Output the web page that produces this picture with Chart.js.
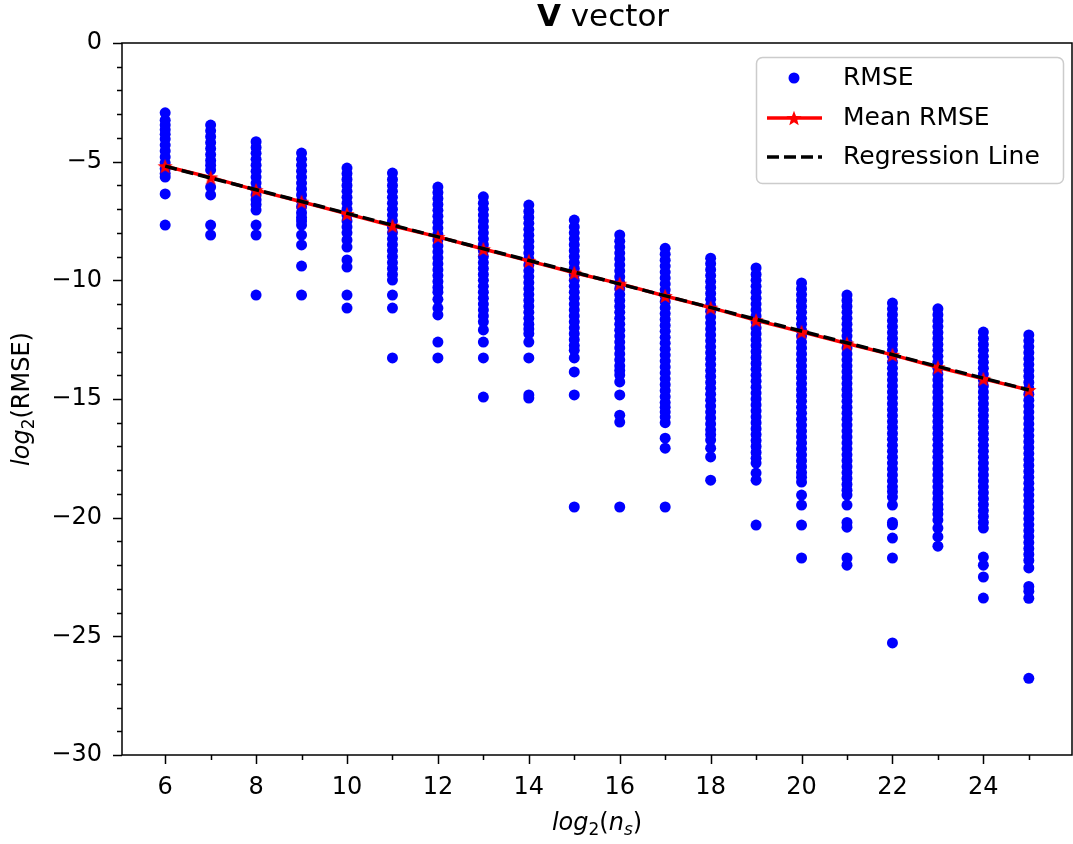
<!DOCTYPE html>
<html>
<head>
<meta charset="utf-8">
<title>V vector RMSE</title>
<script src="https://cdn.jsdelivr.net/npm/chart.js@4"></script>
<style>
  html, body { margin: 0; padding: 0; background: #fff; }
  canvas { display: block; }
</style>
</head>
<body>
<canvas id="rmseChart" width="1073" height="844"></canvas>
<script>
// log2(n_s) values (one column of points per value)
const nsValues = [6, 7, 8, 9, 10, 11, 12, 13, 14, 15, 16, 17, 18, 19, 20, 21, 22, 23, 24, 25];

// log2(RMSE) per column
const rmse_6 = [-2.94, -3.25, -3.45, -3.65, -3.85, -4.05, -4.3, -4.55, -4.8, -5.05, -5.3, -5.5, -5.65, -6.36, -7.67];
const rmse_7 = [-3.46, -3.7, -3.95, -4.2, -4.45, -4.7, -4.95, -5.15, -5.35, -6.07, -6.4, -7.67, -8.09];
const rmse_8 = [-4.16, -4.4, -4.65, -4.9, -5.15, -5.4, -5.65, -5.9, -6.15, -6.4, -6.6, -6.8, -7.04, -7.67, -8.09, -10.62];
const rmse_9 = [-4.64, -4.9, -5.15, -5.4, -5.65, -5.9, -6.15, -6.4, -6.65, -6.9, -7.15, -7.35, -7.5, -7.67, -8.09, -8.51, -9.4, -10.62];
const rmse_10 = [-5.27, -5.5, -5.75, -6.0, -6.25, -6.5, -6.75, -7.0, -7.25, -7.5, -7.75, -8.0, -8.3, -8.6, -9.14, -9.44, -10.62, -11.17];
const rmse_11 = [-5.48, -5.75, -6.0, -6.25, -6.5, -6.75, -7.0, -7.25, -7.5, -7.75, -8.0, -8.25, -8.5, -8.75, -9.0, -9.25, -9.5, -9.75, -9.99, -10.62, -11.17, -13.27];
const rmse_12 = [-6.07, -6.3, -6.55, -6.8, -7.05, -7.3, -7.55, -7.8, -8.05, -8.3, -8.55, -8.8, -9.05, -9.3, -9.55, -9.8, -10.05, -10.3, -10.5, -10.8, -11.17, -11.46, -12.6, -13.27];
const rmse_13 = [-6.48, -6.75, -7.0, -7.25, -7.5, -7.75, -8.0, -8.25, -8.5, -8.75, -9.0, -9.25, -9.5, -9.75, -10.0, -10.25, -10.5, -10.75, -11.0, -11.25, -11.5, -11.75, -12.09, -12.6, -13.27, -14.92];
const rmse_14 = [-6.83, -7.1, -7.35, -7.6, -7.85, -8.1, -8.35, -8.6, -8.85, -9.1, -9.35, -9.6, -9.85, -10.1, -10.35, -10.6, -10.85, -11.1, -11.35, -11.6, -11.85, -12.05, -12.25, -12.6, -13.27, -14.83, -14.96];
const rmse_15 = [-7.46, -7.75, -8.0, -8.25, -8.5, -8.75, -9.0, -9.25, -9.5, -9.75, -10.0, -10.25, -10.5, -10.75, -11.0, -11.25, -11.5, -11.75, -12.0, -12.25, -12.5, -12.75, -12.95, -13.27, -13.86, -14.83, -19.55];
const rmse_16 = [-8.09, -8.35, -8.6, -8.85, -9.1, -9.35, -9.6, -9.85, -10.1, -10.35, -10.6, -10.85, -11.1, -11.35, -11.6, -11.85, -12.1, -12.35, -12.6, -12.85, -13.1, -13.35, -13.6, -13.8, -13.99, -14.28, -14.83, -15.68, -15.97, -19.55];
const rmse_17 = [-8.65, -8.9, -9.15, -9.4, -9.65, -9.9, -10.15, -10.4, -10.65, -10.9, -11.15, -11.4, -11.65, -11.9, -12.15, -12.4, -12.65, -12.9, -13.15, -13.4, -13.65, -13.9, -14.15, -14.4, -14.65, -14.9, -15.15, -15.35, -15.55, -15.76, -16.0, -16.65, -17.07, -19.55];
const rmse_18 = [-9.07, -9.3, -9.55, -9.8, -10.05, -10.3, -10.55, -10.8, -11.05, -11.3, -11.55, -11.8, -12.05, -12.3, -12.55, -12.8, -13.05, -13.3, -13.55, -13.8, -14.05, -14.3, -14.55, -14.8, -15.05, -15.3, -15.55, -15.8, -16.05, -16.3, -16.5, -16.73, -17.07, -17.44, -18.42];
const rmse_19 = [-9.48, -9.75, -10.0, -10.25, -10.5, -10.75, -11.0, -11.25, -11.5, -11.75, -12.0, -12.25, -12.5, -12.75, -13.0, -13.25, -13.5, -13.75, -14.0, -14.25, -14.5, -14.75, -15.0, -15.25, -15.5, -15.75, -16.0, -16.25, -16.5, -16.75, -17.0, -17.25, -17.5, -17.7, -18.12, -18.42, -20.31];
const rmse_20 = [-10.11, -10.35, -10.6, -10.85, -11.1, -11.35, -11.6, -11.85, -12.1, -12.35, -12.6, -12.85, -13.1, -13.35, -13.6, -13.85, -14.1, -14.35, -14.6, -14.85, -15.1, -15.35, -15.6, -15.85, -16.1, -16.35, -16.6, -16.85, -17.1, -17.35, -17.6, -17.85, -18.1, -18.3, -18.5, -19.05, -19.47, -20.31, -21.7];
const rmse_21 = [-10.62, -10.85, -11.1, -11.35, -11.6, -11.85, -12.1, -12.35, -12.6, -12.85, -13.1, -13.35, -13.6, -13.85, -14.1, -14.35, -14.6, -14.85, -15.1, -15.35, -15.6, -15.85, -16.1, -16.35, -16.6, -16.85, -17.1, -17.35, -17.6, -17.85, -18.1, -18.35, -18.6, -18.84, -19.05, -19.47, -20.2, -20.4, -21.7, -22.0];
const rmse_22 = [-10.96, -11.2, -11.45, -11.7, -11.95, -12.2, -12.45, -12.7, -12.95, -13.2, -13.45, -13.7, -13.95, -14.2, -14.45, -14.7, -14.95, -15.2, -15.45, -15.7, -15.95, -16.2, -16.45, -16.7, -16.95, -17.2, -17.45, -17.7, -17.95, -18.2, -18.45, -18.7, -18.9, -19.13, -19.47, -20.2, -20.3, -20.86, -21.7, -25.28];
const rmse_23 = [-11.2, -11.45, -11.7, -11.95, -12.2, -12.45, -12.7, -12.95, -13.2, -13.45, -13.7, -13.95, -14.2, -14.45, -14.7, -14.95, -15.2, -15.45, -15.7, -15.95, -16.2, -16.45, -16.7, -16.95, -17.2, -17.45, -17.7, -17.95, -18.2, -18.45, -18.7, -18.95, -19.2, -19.45, -19.65, -19.85, -20.1, -20.44, -20.8, -21.2];
const rmse_24 = [-12.18, -12.45, -12.7, -12.95, -13.2, -13.45, -13.7, -13.95, -14.2, -14.45, -14.7, -14.95, -15.2, -15.45, -15.7, -15.95, -16.2, -16.45, -16.7, -16.95, -17.2, -17.45, -17.7, -17.95, -18.2, -18.45, -18.7, -18.95, -19.2, -19.45, -19.7, -19.95, -20.2, -20.44, -21.66, -22.0, -22.5, -23.39];
const rmse_25 = [-12.3, -12.55, -12.8, -13.05, -13.3, -13.55, -13.8, -14.05, -14.3, -14.55, -14.8, -15.05, -15.3, -15.55, -15.8, -16.05, -16.3, -16.55, -16.8, -17.05, -17.3, -17.55, -17.8, -18.05, -18.3, -18.55, -18.8, -19.05, -19.3, -19.55, -19.8, -20.05, -20.3, -20.55, -20.8, -21.05, -21.3, -21.55, -21.8, -22.12, -22.9, -23.1, -23.4, -26.77];

const rmseColumns = [rmse_6, rmse_7, rmse_8, rmse_9, rmse_10, rmse_11, rmse_12, rmse_13, rmse_14, rmse_15,
  rmse_16, rmse_17, rmse_18, rmse_19, rmse_20, rmse_21, rmse_22, rmse_23, rmse_24, rmse_25];

// Mean RMSE per column
const meanRmse = [-5.19, -5.66, -6.2, -6.69, -7.2, -7.7, -8.17, -8.68, -9.18, -9.68,
  -10.14, -10.66, -11.15, -11.68, -12.17, -12.66, -13.14, -13.66, -14.15, -14.62];

// Regression line end points
const regressionX = [6, 25];
const regressionY = [-5.19, -14.62];

// Axis ticks (majors get labels)
const xTickValues = [6, 7, 8, 9, 10, 11, 12, 13, 14, 15, 16, 17, 18, 19, 20, 21, 22, 23, 24, 25];
const xMajorTicks = [6, 8, 10, 12, 14, 16, 18, 20, 22, 24];
const yTickValues = [-30, -29, -28, -27, -26, -25, -24, -23, -22, -21, -20, -19, -18, -17, -16, -15,
  -14, -13, -12, -11, -10, -9, -8, -7, -6, -5, -4, -3, -2, -1, 0];
const yMajorTicks = [-30, -25, -20, -15, -10, -5, 0];

const FONT = 'DejaVu Sans';
Chart.defaults.font.family = FONT;
Chart.defaults.color = '#000';

// Filled star marker like matplotlib '*'
function makeStar(color, outer) {
  const size = Math.ceil(outer * 2 + 4);
  const c = document.createElement('canvas');
  c.width = size; c.height = size;
  const g = c.getContext('2d');
  const inner = outer * 0.42;
  g.beginPath();
  for (let i = 0; i < 10; i++) {
    const r = i % 2 === 0 ? outer : inner;
    const a = -Math.PI / 2 + i * Math.PI / 5;
    const px = size / 2 + r * Math.cos(a);
    const py = size / 2 + r * Math.sin(a) + outer * 0.1;
    if (i === 0) g.moveTo(px, py); else g.lineTo(px, py);
  }
  g.closePath();
  g.fillStyle = color;
  g.fill();
  return c;
}
const starMarker = makeStar('#ff0000', 8);

// Build datasets
const scatterPoints = [];
nsValues.forEach((ns, i) => {
  rmseColumns[i].forEach(v => scatterPoints.push({ x: ns, y: v }));
});
const meanPoints = nsValues.map((ns, i) => ({ x: ns, y: meanRmse[i] }));
const regressionPoints = regressionX.map((x, i) => ({ x: x, y: regressionY[i] }));

// Draw text pieces (mathtext-like) from left to right
function drawPieces(ctx, pieces, startX, baseY) {
  let x = startX;
  pieces.forEach(p => {
    ctx.font = p.font;
    ctx.fillText(p.text, x, baseY + (p.dy || 0));
    x += ctx.measureText(p.text).width;
  });
}
function piecesWidth(ctx, pieces) {
  let w = 0;
  pieces.forEach(p => { ctx.font = p.font; w += ctx.measureText(p.text).width; });
  return w;
}

function minusLabel(v) {
  return v < 0 ? '\u2212' + Math.abs(v) : String(v);
}

const axesPlugin = {
  id: 'axesDecor',
  afterDatasetsDraw(chart) {
    const ctx = chart.ctx;
    const a = chart.chartArea;
    const xs = chart.scales.x, ys = chart.scales.y;
    const rm = '24px "' + FONT + '"';
    ctx.save();
    ctx.strokeStyle = '#000';
    ctx.fillStyle = '#000';
    ctx.lineWidth = 1.5;

    // ticks
    ctx.beginPath();
    xTickValues.forEach(v => {
      const px = Math.round(xs.getPixelForValue(v)) + 0.5;
      const len = xMajorTicks.includes(v) ? 9 : 5;
      ctx.moveTo(px, a.bottom); ctx.lineTo(px, a.bottom + len);
    });
    yTickValues.forEach(v => {
      const py = Math.round(ys.getPixelForValue(v)) + 0.5;
      const len = yMajorTicks.includes(v) ? 9 : 5;
      ctx.moveTo(a.left, py); ctx.lineTo(a.left - len, py);
    });
    ctx.stroke();

    // frame
    ctx.strokeRect(a.left, a.top, a.right - a.left, a.bottom - a.top);

    // tick labels
    ctx.font = rm;
    ctx.textAlign = 'center';
    ctx.textBaseline = 'alphabetic';
    xMajorTicks.forEach(v => ctx.fillText(String(v), xs.getPixelForValue(v), a.bottom + 39));
    ctx.textAlign = 'right';
    ctx.textBaseline = 'middle';
    yMajorTicks.forEach(v => ctx.fillText(minusLabel(v), a.left - 20, ys.getPixelForValue(v)));

    ctx.textAlign = 'left';
    ctx.textBaseline = 'alphabetic';

    // title: bold V + vector
    const title = [
      { text: 'V', font: 'bold 31px "' + FONT + '"' },
      { text: ' vector', font: '31px "' + FONT + '"' }
    ];
    const cx = (a.left + a.right) / 2;
    drawPieces(ctx, title, cx + 6 - piecesWidth(ctx, title) / 2, 26);

    // x axis title: log2(ns)
    const it = 'italic 24px "' + FONT + '"';
    const sub = '17px "' + FONT + '"', subIt = 'italic 17px "' + FONT + '"';
    const xTitle = [
      { text: 'log', font: it }, { text: '2', font: sub, dy: 5 },
      { text: '(', font: rm }, { text: 'n', font: it }, { text: 's', font: subIt, dy: 5 },
      { text: ')', font: rm }
    ];
    drawPieces(ctx, xTitle, cx - piecesWidth(ctx, xTitle) / 2, 830);

    // y axis title: log2(RMSE)
    const yTitle = [
      { text: 'log', font: it }, { text: '2', font: sub, dy: 5 }, { text: '(RMSE)', font: rm }
    ];
    ctx.translate(29, (a.top + a.bottom) / 2);
    ctx.rotate(-Math.PI / 2);
    drawPieces(ctx, yTitle, -piecesWidth(ctx, yTitle) / 2, 0);
    ctx.restore();
  },
  afterDraw(chart) {
    // legend box, upper right like matplotlib
    const ctx = chart.ctx;
    ctx.save();
    const bx = 756, by = 57, bw = 307, bh = 126, r = 6;
    ctx.beginPath();
    ctx.roundRect(bx + 0.5, by + 0.5, bw, bh, r);
    ctx.fillStyle = 'rgba(255,255,255,0.8)';
    ctx.fill();
    ctx.strokeStyle = '#cccccc';
    ctx.lineWidth = 1.5;
    ctx.stroke();

    const hx0 = 767, hx1 = 822, hmid = 794, tx = 843;
    const rows = [78, 118, 157];

    ctx.fillStyle = '#0000ff';
    ctx.beginPath();
    ctx.arc(hmid, rows[0], 5.5, 0, Math.PI * 2);
    ctx.fill();

    ctx.strokeStyle = '#ff0000';
    ctx.lineWidth = 3.5;
    ctx.beginPath();
    ctx.moveTo(hx0, rows[1]); ctx.lineTo(hx1, rows[1]);
    ctx.stroke();
    ctx.drawImage(starMarker, hmid - starMarker.width / 2, rows[1] - starMarker.height / 2);

    ctx.strokeStyle = '#000';
    ctx.setLineDash([12, 5]);
    ctx.beginPath();
    ctx.moveTo(hx0, rows[2]); ctx.lineTo(hx1, rows[2]);
    ctx.stroke();
    ctx.setLineDash([]);

    ctx.fillStyle = '#000';
    ctx.font = '25px "' + FONT + '"';
    ctx.textBaseline = 'middle';
    ctx.fillText('RMSE', tx, rows[0]);
    ctx.fillText('Mean RMSE', tx, rows[1]);
    ctx.fillText('Regression Line', tx, rows[2]);
    ctx.restore();
  }
};

const chart = new Chart(document.getElementById('rmseChart'), {
  type: 'scatter',
  data: {
    datasets: [
      {
        label: 'RMSE',
        data: scatterPoints,
        backgroundColor: '#0000ff',
        borderWidth: 0,
        pointRadius: 5.5,
        pointHoverRadius: 5.5,
        order: 3
      },
      {
        type: 'line',
        label: 'Mean RMSE',
        data: meanPoints,
        borderColor: '#ff0000',
        borderWidth: 3.5,
        pointStyle: starMarker,
        pointRadius: 8,
        fill: false,
        tension: 0,
        order: 2
      },
      {
        type: 'line',
        label: 'Regression Line',
        data: regressionPoints,
        borderColor: '#000000',
        borderWidth: 3.5,
        borderDash: [12, 5],
        pointRadius: 0,
        fill: false,
        order: 1
      }
    ]
  },
  options: {
    responsive: false,
    animation: false,
    layout: { autoPadding: false, padding: { top: 43, right: 1, left: 0, bottom: 0 } },
    plugins: {
      legend: { display: false },
      title: { display: false },
      tooltip: { enabled: false }
    },
    scales: {
      x: {
        type: 'linear',
        min: 5.05,
        max: 25.95,
        afterFit: s => { s.height = 89; },
        border: { display: false },
        grid: { display: false },
        ticks: { display: false }
      },
      y: {
        type: 'linear',
        min: -30,
        max: 0,
        afterFit: s => { s.width = 122; },
        border: { display: false },
        grid: { display: false },
        ticks: { display: false }
      }
    }
  },
  plugins: [axesPlugin]
});
</script>
</body>
</html>
